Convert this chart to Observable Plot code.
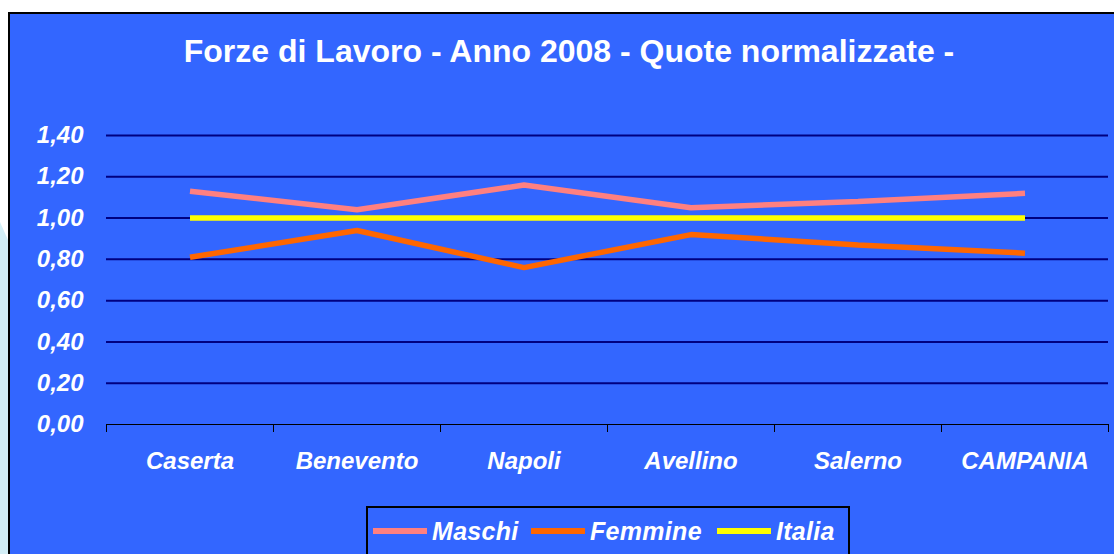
<!DOCTYPE html>
<html>
<head>
<meta charset="utf-8">
<script src="https://cdn.jsdelivr.net/npm/d3@7"></script>
<script src="https://cdn.jsdelivr.net/npm/@observablehq/plot@0.6"></script>
<style>
  html, body { margin: 0; padding: 0; width: 1114px; height: 554px; overflow: hidden; background: #ffffff; font-family: "Liberation Sans", Arial, sans-serif; }
  #strip { position: absolute; left: 0; top: 222px; width: 8px; height: 340px; background: #D3EEF6; clip-path: polygon(0 0, 100% 18px, 100% 100%, 0 100%); }
  #frame { position: absolute; left: 8px; top: 12px; width: 1106px; height: 542px; box-sizing: border-box; background: #3366FF; border-left: 2px solid #000; border-top: 2px solid #000; }
  #title { position: absolute; left: 69px; width: 1000px; top: 35px; text-align: center; color: #fff; font-weight: bold; font-size: 32px; line-height: 32px; white-space: nowrap; }
  #chart { position: absolute; left: 0; top: 0; }
  #legend { position: absolute; left: 366px; top: 506px; width: 484px; height: 60px; box-sizing: border-box; border: 2px solid #000; }
  .item { position: absolute; top: 0; height: 44px; }
  .sw { position: absolute; top: 20px; width: 54px; height: 6px; }
  .lab { position: absolute; top: 8px; left: 59px; color: #fff; font-weight: bold; font-style: italic; font-size: 25px; line-height: 30px; white-space: nowrap; letter-spacing: 0.3px; }
</style>
</head>
<body>
<div id="strip"></div>
<div id="frame"></div>
<div id="title"></div>
<div id="chart"></div>
<div id="legend"></div>
<script>
const titleText = "Forze di Lavoro - Anno 2008 - Quote normalizzate -";
const categories = ["Caserta", "Benevento", "Napoli", "Avellino", "Salerno", "CAMPANIA"];
const maschi  = [1.13, 1.04, 1.16, 1.05, 1.08, 1.12];
const femmine = [0.81, 0.94, 0.76, 0.92, 0.87, 0.83];
const italia  = [1.00, 1.00, 1.00, 1.00, 1.00, 1.00];
const seriesNames = ["Maschi", "Femmine", "Italia"];
const seriesColors = ["#FF8080", "#FF6600", "#FFFF00"];
const yTicks = [0, 0.2, 0.4, 0.6, 0.8, 1.0, 1.2, 1.4];

document.getElementById("title").textContent = titleText;

const seriesValues = [maschi, femmine, italia];
const rows = [];
seriesNames.forEach((s, si) => categories.forEach((c, ci) => rows.push({series: s, cat: c, value: seriesValues[si][ci]})));

const W = 1114, H = 554, ML = 106, MR = 6, MT = 135, MB = 130;
const bw = (W - ML - MR) / categories.length;
const fmt = d => d.toFixed(2).replace(".", ",");
const font = {fontSize: 24, fontWeight: "bold", fontStyle: "italic", fontFamily: "Liberation Sans, Arial, sans-serif"};

const chart = Plot.plot({
  width: W, height: H,
  marginLeft: ML, marginRight: MR, marginTop: MT, marginBottom: MB,
  style: {background: "transparent", overflow: "visible"},
  x: {type: "band", domain: categories, padding: 0, label: null},
  y: {domain: [0, 1.4], label: null},
  color: {domain: seriesNames, range: seriesColors},
  marks: [
    Plot.ruleY(yTicks.filter(v => v > 0), {stroke: "#000080", strokeWidth: 2}),
    Plot.ruleY([0], {stroke: "#000", strokeWidth: 1}),
    Plot.axisX(categories, {tickSize: 8, tickFormat: () => "", label: null, dx: -bw / 2, stroke: "#000", strokeOpacity: 1}),
    Plot.axisX([categories[categories.length - 1]], {tickSize: 8, tickFormat: () => "", label: null, dx: bw / 2, stroke: "#000", strokeOpacity: 1}),
    Plot.axisX(categories, {tickSize: 0, tickPadding: 27, label: null, fill: "#fff", ...font}),
    Plot.axisY(yTicks, {tickSize: 0, tickPadding: 23, tickFormat: fmt, label: null, fill: "#fff", ...font}),
    Plot.line(rows, {x: "cat", y: "value", z: "series", stroke: "series", strokeWidth: 5.5, strokeLinejoin: "miter", strokeLinecap: "butt"})
  ]
});
document.getElementById("chart").appendChild(chart);

const legend = document.getElementById("legend");
const itemX = [5, 163, 349];
seriesNames.forEach((s, i) => {
  const it = document.createElement("div");
  it.className = "item";
  it.style.left = itemX[i] + "px";
  const sw = document.createElement("div");
  sw.className = "sw";
  sw.style.background = seriesColors[i];
  const lab = document.createElement("div");
  lab.className = "lab";
  lab.textContent = s;
  it.appendChild(sw); it.appendChild(lab);
  legend.appendChild(it);
});
</script>
</body>
</html>
